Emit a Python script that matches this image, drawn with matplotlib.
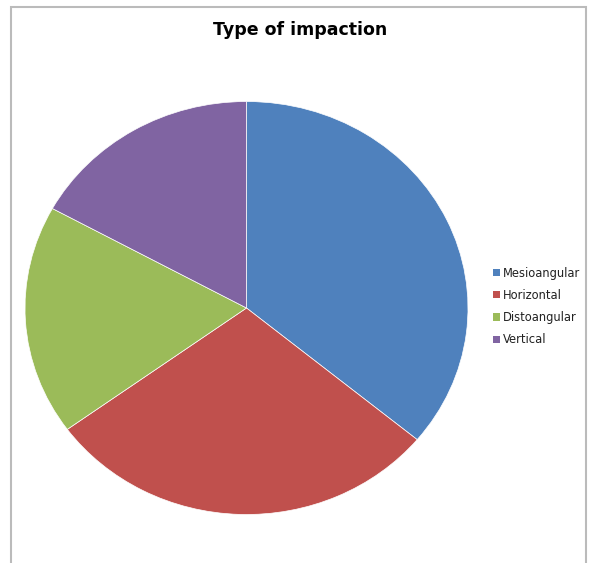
import matplotlib
matplotlib.use("Agg")
import matplotlib.pyplot as plt
from matplotlib.patches import Rectangle, Patch

categories = ["Mesioangular", "Horizontal", "Distoangular", "Vertical"]
values = [36, 29, 18, 17]
colors = ["#4F81BD", "#C0504D", "#9BBB59", "#8064A2"]
title = "Type of impaction"

W, H = 589, 563
fig = plt.figure(figsize=(W / 100, H / 100), dpi=100)
fig.patch.set_facecolor("white")

# frame border
fig.add_artist(Rectangle((11 / W, -0.05), (586 - 11) / W, 1.05 - 7 / H,
                         transform=fig.transFigure, fill=False,
                         edgecolor="#BBBBBB", linewidth=1.5))

cx, cy, rx, ry = 246.5, 308, 221.5, 206.5
ax = fig.add_axes([(cx - rx) / W, (H - cy - ry) / H, 2 * rx / W, 2 * ry / H])
ax.pie(values, colors=colors, startangle=90, counterclock=False,
       wedgeprops=dict(linewidth=0.5, edgecolor="white"))
ax.set_xlim(-1, 1)
ax.set_ylim(-1, 1)
ax.set_aspect("auto")
ax.axis("off")

fig.text(300 / W, 1 - 30 / H, title, ha="center", va="center",
         fontsize=12.5, fontweight="bold", family="DejaVu Sans", color="black")

handles = [Patch(facecolor=c, edgecolor="none") for c in colors]
leg = fig.legend(handles, categories, loc="center left",
                 bbox_to_anchor=(487 / W, 1 - 306.5 / H), frameon=False,
                 fontsize=8.3, handlelength=0.6, handleheight=0.6,
                 handletextpad=0.3, labelspacing=0.8, borderpad=0)
for t in leg.get_texts():
    t.set_color("#222222")

fig.savefig("out.png", dpi=100, facecolor="white")
